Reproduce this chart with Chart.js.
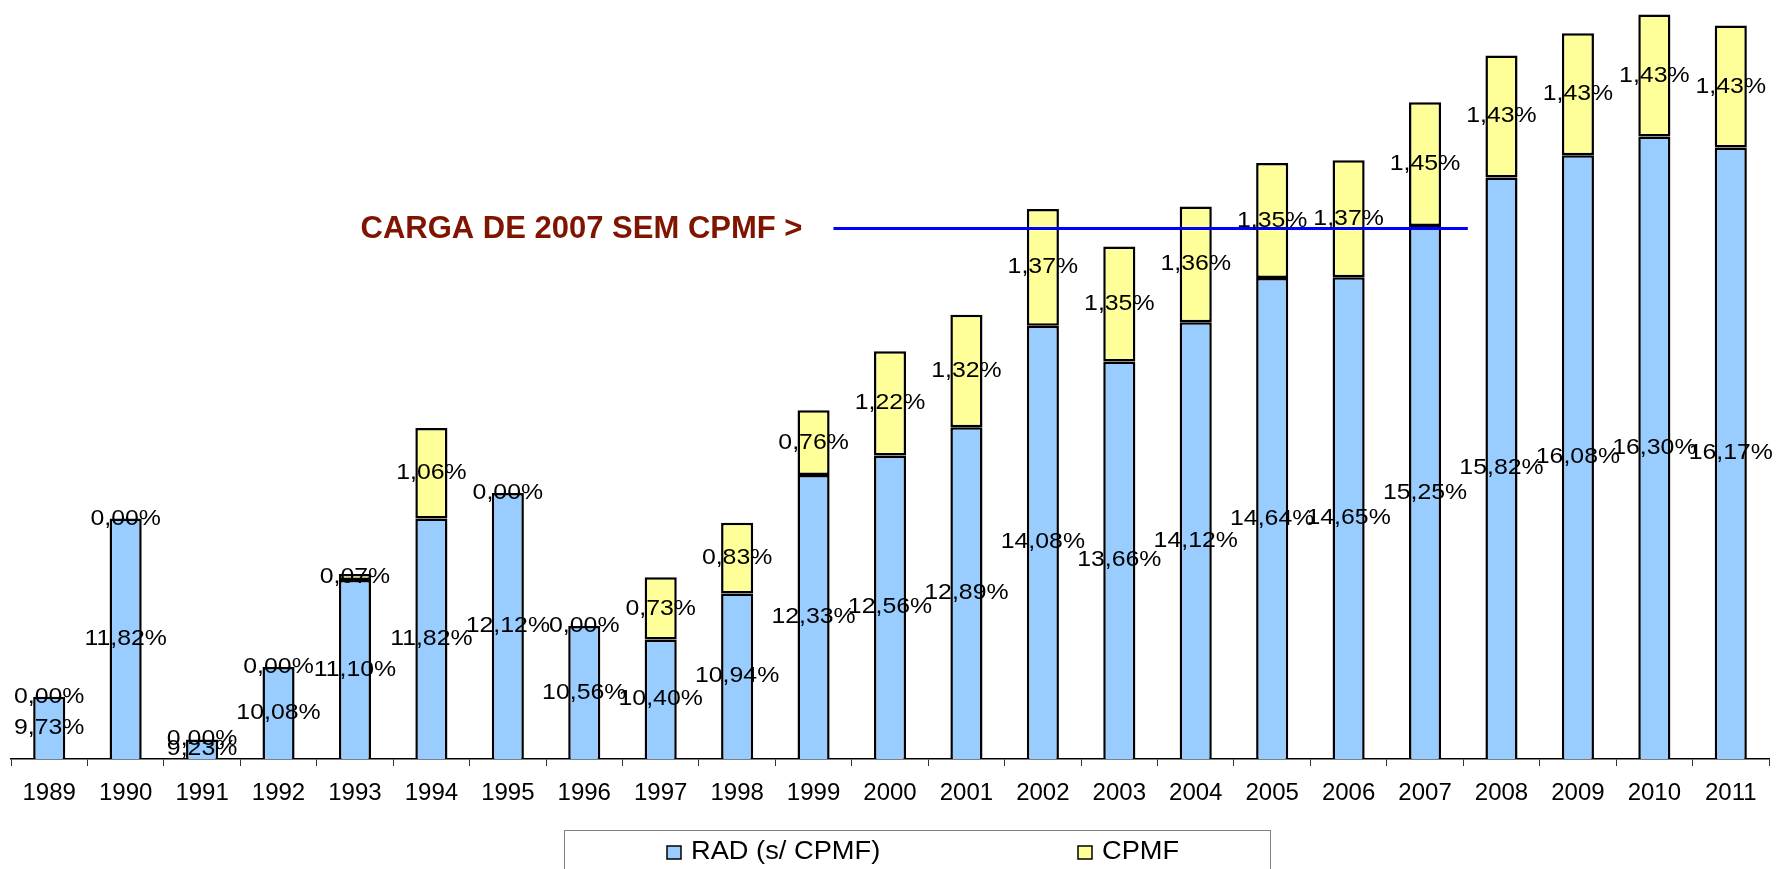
<!DOCTYPE html>
<html>
<head>
<meta charset="utf-8">
<script src="https://cdn.jsdelivr.net/npm/chart.js@4.4.0/dist/chart.umd.min.js"></script>
<style>
  html, body { margin: 0; padding: 0; background: #fff; }
  #wrap { width: 1778px; height: 869px; position: relative; }
</style>
</head>
<body>
<div id="wrap"><canvas id="myChart"></canvas></div>
<script>
// anos
var years = ['1989', '1990', '1991', '1992', '1993', '1994', '1995', '1996', '1997', '1998', '1999', '2000',
             '2001', '2002', '2003', '2004', '2005', '2006', '2007', '2008', '2009', '2010', '2011'];
// carga sem CPMF (% PIB)
var radValues = [9.73, 11.82, 9.23, 10.08, 11.10, 11.82, 12.12, 10.56, 10.40, 10.94, 12.33, 12.56,
                 12.89, 14.08, 13.66, 14.12, 14.64, 14.65, 15.25, 15.82, 16.08, 16.30, 16.17];
// CPMF (% PIB)
var cpmfValues = [0.00, 0.00, 0.00, 0.00, 0.07, 1.06, 0.00, 0.00, 0.73, 0.83, 0.76, 1.22,
                  1.32, 1.37, 1.35, 1.36, 1.35, 1.37, 1.45, 1.43, 1.43, 1.43, 1.43];

// linha de referencia: valor, posicao inicial e final (em indice de categoria)
var refValue = 15.22;
var refFrom = 10.26;
var refTo = 18.56;
var refText = 'CARGA DE 2007 SEM CPMF >';

var fontFamily = '"Liberation Sans", Arial, sans-serif';

function fmt(v) {
    return v.toFixed(2).replace('.', ',') + '%';
}

// texto levemente esticado na horizontal (como no original)
function wideText(ctx, text, x, y, sx) {
    ctx.save();
    ctx.translate(x, y);
    ctx.scale(sx, 1);
    ctx.fillText(text, 0, 0);
    ctx.restore();
}

// linha azul + rotulos no centro de cada segmento
var valueLabels = {
    id: 'valueLabels',
    afterDatasetsDraw: function(chart) {
        var ctx = chart.ctx;
        var xs = chart.scales.x, ys = chart.scales.y;
        var yLine = ys.getPixelForValue(refValue);
        var x0 = xs.getPixelForValue(refFrom);
        var x1 = xs.getPixelForValue(refTo);
        ctx.save();
        ctx.strokeStyle = '#0000ff';
        ctx.lineWidth = 3;
        ctx.beginPath();
        ctx.moveTo(x0, yLine);
        ctx.lineTo(x1, yLine);
        ctx.stroke();
        ctx.fillStyle = '#7f1400';
        ctx.font = 'bold 31px ' + fontFamily;
        ctx.textAlign = 'right';
        ctx.textBaseline = 'middle';
        ctx.fillText(refText, x0 - 31, yLine + 1);

        ctx.font = '22px ' + fontFamily;
        ctx.fillStyle = '#000';
        ctx.textAlign = 'center';
        var bottom = chart.chartArea.bottom;
        chart.data.datasets.forEach(function(ds, i) {
            var meta = chart.getDatasetMeta(i);
            meta.data.forEach(function(bar, j) {
                var base = Math.min(bar.base, bottom);
                var y = (bar.y + base) / 2;
                wideText(ctx, fmt(ds.data[j]), bar.x, y, 1.13);
            });
        });
        ctx.restore();
    }
};

// legenda com caixa
var boxLegend = {
    id: 'boxLegend',
    afterDraw: function(chart) {
        var ctx = chart.ctx;
        ctx.save();
        ctx.strokeStyle = '#808080';
        ctx.lineWidth = 1;
        ctx.strokeRect(564.5, 830.5, 706, 60);
        var items = [
            { text: 'RAD (s/ CPMF)', color: '#99ccff', x: 667 },
            { text: 'CPMF', color: '#ffff99', x: 1078 }
        ];
        ctx.font = '25px ' + fontFamily;
        ctx.textBaseline = 'middle';
        ctx.textAlign = 'left';
        items.forEach(function(it) {
            ctx.fillStyle = it.color;
            ctx.fillRect(it.x, 846, 14, 13);
            ctx.strokeStyle = '#000';
            ctx.lineWidth = 1.5;
            ctx.strokeRect(it.x, 846, 14, 13);
            ctx.fillStyle = '#000';
            wideText(ctx, it.text, it.x + 24, 852, 1.09);
        });
        ctx.restore();
    }
};

var ctx = document.getElementById('myChart').getContext('2d');
var myChart = new Chart(ctx, {
    type: 'bar',
    data: {
        labels: years,
        datasets: [{
            label: 'RAD (s/ CPMF)',
            data: radValues,
            backgroundColor: '#99ccff',
            borderColor: '#000',
            borderWidth: 2.5,
            borderSkipped: false,
            barPercentage: 0.42,
            categoryPercentage: 1
        }, {
            label: 'CPMF',
            data: cpmfValues,
            backgroundColor: '#ffff99',
            borderColor: '#000',
            borderWidth: function(c) { return c.raw === 0 ? 0 : 2.5; },
            borderSkipped: false,
            barPercentage: 0.42,
            categoryPercentage: 1
        }]
    },
    options: {
        responsive: true,
        maintainAspectRatio: false,
        animation: false,
        layout: {
            padding: { left: 11, right: 9, top: 0, bottom: 0 }
        },
        scales: {
            x: {
                stacked: true,
                grid: {
                    display: true,
                    drawOnChartArea: false,
                    offset: true,
                    tickLength: 7,
                    color: '#333'
                },
                border: {
                    color: '#000',
                    width: 1.5
                },
                ticks: {
                    color: '#000',
                    padding: 13,
                    maxRotation: 0,
                    autoSkip: false,
                    font: { family: fontFamily, size: 24 }
                },
                afterFit: function(s) { s.height = 110; }
            },
            y: {
                stacked: true,
                display: false,
                min: 9,
                max: 17.9
            }
        },
        plugins: {
            legend: { display: false },
            tooltip: { enabled: false }
        }
    },
    plugins: [valueLabels, boxLegend]
});
</script>
</body>
</html>
